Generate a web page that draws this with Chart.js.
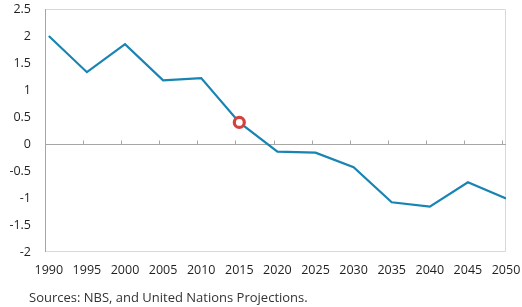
<!DOCTYPE html>
<html>
<head>
<meta charset="utf-8">
<script src="https://cdn.jsdelivr.net/npm/chart.js@4"></script>
<style>
  html, body { margin: 0; padding: 0; background: #fff; }
  #wrap { position: relative; width: 522px; height: 307px; }
  #src { position: absolute; left: 29px; top: 288px; font: 13px "Open Sans", sans-serif; color: #333333; white-space: nowrap; }
</style>
</head>
<body>
<div id="wrap">
  <canvas id="c" width="522" height="307"></canvas>
  <div id="src">Sources: NBS, and United Nations Projections.</div>
</div>
<script>
const years = [1990, 1995, 2000, 2005, 2010, 2015, 2020, 2025, 2030, 2035, 2040, 2045, 2050];
const values = [2.0, 1.33, 1.85, 1.18, 1.22, 0.40, -0.14, -0.16, -0.43, -1.08, -1.16, -0.71, -1.01];
const yTicks = [2.5, 2, 1.5, 1, 0.5, 0, -0.5, -1, -1.5, -2];
const highlightYear = 2015;

const frame = {
  id: 'frame',
  beforeDatasetsDraw(chart) {
    const { ctx, chartArea: a, scales: { x, y } } = chart;
    ctx.save();
    ctx.lineWidth = 1;
    ctx.strokeStyle = '#d9d9d9';
    ctx.beginPath();
    ctx.moveTo(a.left, a.top + 0.5); ctx.lineTo(a.right - 0.5, a.top + 0.5);
    ctx.lineTo(a.right - 0.5, a.bottom - 0.5); ctx.lineTo(a.left, a.bottom - 0.5);
    ctx.stroke();
    ctx.strokeStyle = '#a6a6a6';
    ctx.beginPath();
    ctx.moveTo(a.left + 0.5, a.top); ctx.lineTo(a.left + 0.5, a.bottom);
    ctx.stroke();
    const z = Math.round(y.getPixelForValue(0)) + 0.5;
    ctx.beginPath();
    ctx.moveTo(a.left, z); ctx.lineTo(a.right, z);
    years.slice(1).forEach(v => {
      const px = Math.round(x.getPixelForValue(v - 0.5)) + 0.5;
      ctx.moveTo(px, z); ctx.lineTo(px, z - 4);
    });
    ctx.stroke();
    ctx.restore();
  }
};

new Chart(document.getElementById('c'), {
  type: 'line',
  data: {
    datasets: [{
      data: years.map((v, i) => ({ x: v, y: values[i] })),
      borderColor: '#1784b3',
      borderWidth: 2.2,
      tension: 0,
      pointRadius: ctx => (ctx.raw && ctx.raw.x === highlightYear ? 5 : 0),
      pointBorderWidth: 3.2,
      pointBorderColor: '#d2433e',
      pointBackgroundColor: '#ffffff',
      pointHoverRadius: 0
    }]
  },
  options: {
    responsive: false,
    animation: false,
    events: [],
    layout: { padding: { top: 9, right: 16, bottom: 29, left: 0 } },
    plugins: { legend: { display: false }, tooltip: { enabled: false } },
    scales: {
      x: {
        type: 'linear',
        min: 1989.5,
        max: 2050,
        afterBuildTicks: s => { s.ticks = years.map(v => ({ value: v })); },
        afterFit: s => { s.height = 26; s.paddingLeft = 0; s.paddingRight = 0; },
        ticks: {
          padding: 11,
          maxRotation: 0,
          autoSkip: false,
          color: '#1f1f1f',
          font: { family: '"Open Sans", sans-serif', size: 12.5 },
          callback: v => String(v)
        },
        grid: { display: false, drawTicks: false },
        border: { display: false }
      },
      y: {
        min: -2,
        max: 2.5,
        afterBuildTicks: s => { s.ticks = yTicks.map(v => ({ value: v })); },
        afterFit: s => { s.width = 45; s.paddingTop = 0; s.paddingBottom = 0; },
        ticks: {
          padding: 14,
          color: '#1f1f1f',
          font: { family: '"Open Sans", sans-serif', size: 12.5 },
          callback: v => String(v)
        },
        grid: { display: false, drawTicks: false },
        border: { display: false }
      }
    }
  },
  plugins: [frame]
});
</script>
</body>
</html>
